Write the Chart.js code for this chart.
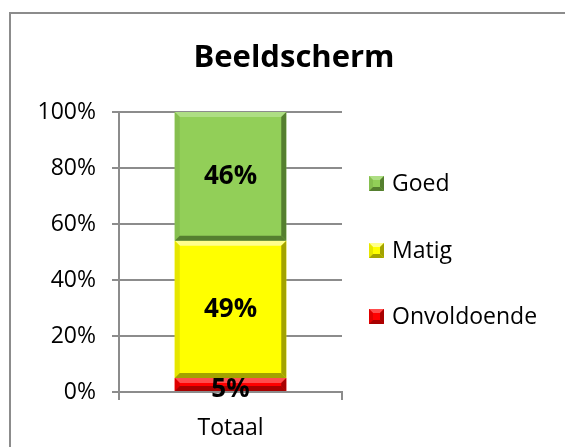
<!DOCTYPE html>
<html>
<head>
<meta charset="utf-8">
<script src="https://cdn.jsdelivr.net/npm/chart.js@4.4.1/dist/chart.umd.min.js"></script>
<style>
  html, body { margin: 0; padding: 0; background: #fff; }
  #wrap { position: relative; width: 565px; height: 447px; overflow: hidden; }
  #frame { position: absolute; left: 9px; top: 12px; width: 600px; height: 500px; border: 2px solid #8c8c8c; box-sizing: border-box; }
  canvas { position: absolute; left: 0; top: 0; }
</style>
</head>
<body>
<div id="wrap">
  <div id="frame"></div>
  <canvas id="chart" width="565" height="447"></canvas>
</div>
<script>
const categories = ["Totaal"];
const onvoldoende = [5];
const matig = [49];
const goed = [46];
const yTicks = [0, 20, 40, 60, 80, 100];

const FONT = "'Open Sans', 'Noto Sans', sans-serif";

// light / dark shades per series for the Excel-style bevel
const bevel = {
  Onvoldoende: { light: "#ff4d4d", dark: "#a80000", side: "#e00000" },
  Matig: { light: "#ffff8c", dark: "#a3a300", side: "#e6e600" },
  Goed: { light: "#aede84", dark: "#557f2f", side: "#86bf4f" }
};

function drawBevel(ctx, l, t, r, b, d, shade) {
  d = Math.min(d, (b - t) / 2, (r - l) / 2);
  const poly = (pts, c) => {
    ctx.fillStyle = c;
    ctx.beginPath();
    ctx.moveTo(pts[0][0], pts[0][1]);
    pts.slice(1).forEach(p => ctx.lineTo(p[0], p[1]));
    ctx.closePath();
    ctx.fill();
  };
  poly([[l, t], [r, t], [r - d, t + d], [l + d, t + d]], shade.light);
  poly([[l, t], [l + d, t + d], [l + d, b - d], [l, b]], shade.side);
  poly([[r, t], [r, b], [r - d, b - d], [r - d, t + d]], shade.dark);
  poly([[l, b], [l + d, b - d], [r - d, b - d], [r, b]], shade.dark);
}

// bevel edges + value labels centred in each stacked segment
const segmentLabels = {
  id: "segmentLabels",
  afterDatasetsDraw(chart) {
    const ctx = chart.ctx;
    ctx.save();
    chart.data.datasets.forEach((ds, i) => {
      chart.getDatasetMeta(i).data.forEach(bar => {
        const w = bar.width / 2;
        drawBevel(ctx, bar.x - w, Math.min(bar.y, bar.base), bar.x + w, Math.max(bar.y, bar.base), 5, bevel[ds.label]);
      });
    });
    ctx.font = "bold 26px " + FONT;
    ctx.fillStyle = "#000";
    ctx.textAlign = "center";
    ctx.textBaseline = "middle";
    chart.data.datasets.forEach((ds, i) => {
      chart.getDatasetMeta(i).data.forEach((bar, j) => {
        const mid = (bar.y + bar.base) / 2;
        ctx.fillText(ds.data[j] + "%", bar.x, mid + (ds.data[j] < 10 ? 5 : 0));
      });
    });
    ctx.restore();
  }
};

// title + legend drawn on the right like the Excel original
const sideLegend = {
  id: "sideLegend",
  afterDraw(chart) {
    const ctx = chart.ctx;
    ctx.save();
    ctx.fillStyle = "#000";
    ctx.textAlign = "center";
    ctx.textBaseline = "middle";
    ctx.font = "bold 31px " + FONT;
    ctx.fillText("Beeldscherm", 294, 58);

    const rows = [2, 1, 0];
    const ys = [183, 250, 316];
    ctx.font = "23px " + FONT;
    ctx.textAlign = "left";
    rows.forEach((di, k) => {
      const ds = chart.data.datasets[di];
      const y = ys[k];
      ctx.fillStyle = ds.backgroundColor;
      ctx.fillRect(369, y - 7, 15, 15);
      drawBevel(ctx, 369, y - 7, 384, y + 8, 4, bevel[ds.label]);
      ctx.fillStyle = "#000";
      ctx.fillText(ds.label, 392, y + 1);
    });
    ctx.restore();
  }
};

new Chart(document.getElementById("chart"), {
  type: "bar",
  data: {
    labels: categories,
    datasets: [
      { label: "Onvoldoende", data: onvoldoende, backgroundColor: "#ff0000" },
      { label: "Matig", data: matig, backgroundColor: "#ffff00" },
      { label: "Goed", data: goed, backgroundColor: "#92cf58" }
    ]
  },
  options: {
    responsive: false,
    animation: false,
    layout: { padding: { left: 10, right: 223, top: 112, bottom: 0 } },
    datasets: {
      bar: { barPercentage: 0.5, categoryPercentage: 1, borderWidth: 0 }
    },
    plugins: {
      legend: { display: false },
      title: { display: false },
      tooltip: { enabled: false }
    },
    scales: {
      x: {
        stacked: true,
        offset: true,
        afterFit(scale) { scale.height = 55; },
        grid: { offset: true, drawOnChartArea: false, drawTicks: true, tickLength: 8, color: "#8c8c8c", lineWidth: 2 },
        border: { display: true, color: "#8c8c8c", width: 2 },
        ticks: { color: "#000", font: { family: FONT, size: 23 }, padding: 15 }
      },
      y: {
        stacked: true,
        min: 0,
        max: 100,
        afterFit(scale) { scale.width = 109; },
        afterBuildTicks(scale) { scale.ticks = yTicks.map(v => ({ value: v })); },
        grid: { color: "#8c8c8c", lineWidth: 2, tickLength: 7 },
        border: { display: true, color: "#8c8c8c", width: 2 },
        ticks: { color: "#000", font: { family: FONT, size: 23 }, padding: 16, callback: v => v + "%" }
      }
    }
  },
  plugins: [segmentLabels, sideLegend]
});
</script>
</body>
</html>
